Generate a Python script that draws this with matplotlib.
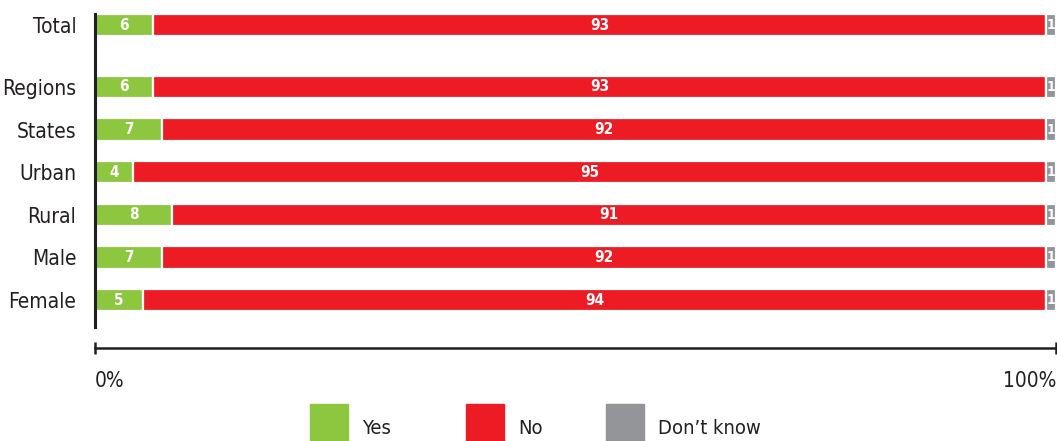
#!/usr/bin/env python3

import numpy as np
from matplotlib import pyplot as plt
from matplotlib.patches import Rectangle

# DejaVu Sans Condensed, closest to the narrow font of the original
plt.rcParams['font.family'] = ['DejaVu Sans']
plt.rcParams['font.stretch'] = 'condensed'

categories = ['Total', 'Regions', 'States', 'Urban', 'Rural', 'Male', 'Female']
yes = [6, 6, 7, 4, 8, 7, 5]
no = [93, 93, 92, 95, 91, 92, 94]
dont_know = [1, 1, 1, 1, 1, 1, 1]
series_names = ['Yes', 'No', 'Don\u2019t know']
tick_labels = ['0%', '100%']

colors = ['#8dc63f', '#ed1c24', '#939598']
dark = '#231f20'


def main():
    W, H = 1057, 441
    fig = plt.figure(figsize=(W / 100, H / 100), dpi=100)
    # axes placed in pixels: x 95..1056, y 14..327
    ax = fig.add_axes([95 / W, 1 - 327 / H, (1056 - 95) / W, (327 - 14) / H])

    # row positions, extra gap after "Total"
    ys = np.array([0] + [1.45 + i for i in range(len(categories) - 1)])

    left = np.zeros(len(categories))
    for vals, col in zip([yes, no, dont_know], colors):
        vals = np.array(vals, dtype=float)
        ax.barh(ys, vals, left=left, height=0.52, color=col,
                edgecolor='white', linewidth=1.6)
        fs = 11 if vals.max() > 2 else 10
        for y, l, v in zip(ys, left, vals):
            ax.text(l + v / 2, y, f'{int(v)}', ha='center', va='center',
                    color='white', fontsize=fs, fontweight='bold')
        left += vals

    ax.set_xlim(0, 100)
    ax.set_ylim(7.08, -0.258)
    ax.set_yticks(ys)
    ax.set_yticklabels(categories, fontsize=15, color=dark)
    ax.tick_params(axis='y', length=0, pad=13.5)

    for s in ['top', 'right']:
        ax.spines[s].set_visible(False)
    ax.spines['left'].set_linewidth(2.2)
    ax.spines['left'].set_color(dark)
    ax.spines['bottom'].set_position(('outward', 15))
    ax.spines['bottom'].set_linewidth(1.8)
    ax.spines['bottom'].set_color(dark)

    ax.set_xticks([0, 100])
    ax.set_xticklabels(tick_labels, fontsize=15, color=dark)
    ax.tick_params(axis='x', direction='inout', length=9, width=1.8,
                   color=dark, pad=12)
    xl = ax.get_xticklabels()
    xl[0].set_ha('left')
    xl[1].set_ha('right')

    # legend along the bottom edge
    box_x = [310, 466, 606]
    for bx, col, name in zip(box_x, colors, series_names):
        fig.patches.append(Rectangle((bx / W, 1 - 443 / H), 38 / W, 39 / H,
                                     transform=fig.transFigure, color=col))
        fig.text((bx + 52) / W, 1 - 429 / H, name, fontsize=14.5, color=dark,
                 ha='left', va='center')

    plt.savefig('out.png', dpi=100)
    plt.clf()


if __name__ == '__main__':
    main()
